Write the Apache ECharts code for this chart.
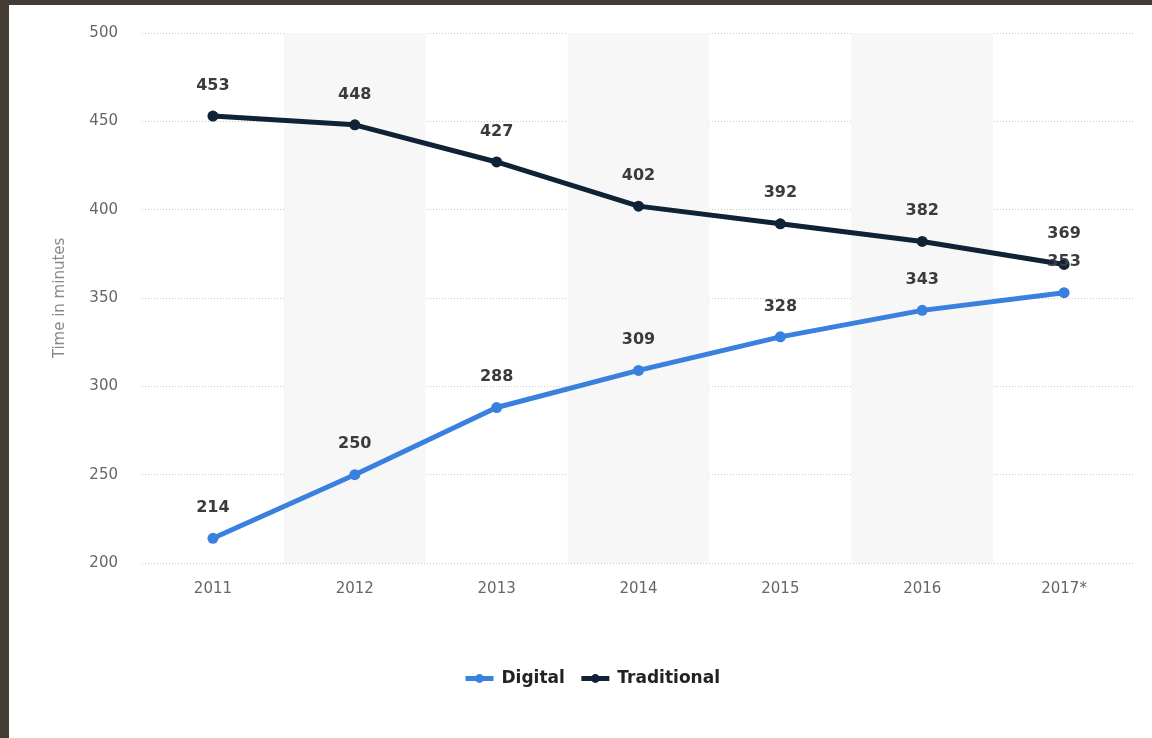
<!DOCTYPE html>
<html><head><meta charset="utf-8">
<script src="https://cdn.jsdelivr.net/npm/echarts@6/dist/echarts.min.js"></script>
<style>html,body{margin:0;padding:0;background:#fff}#c{width:1152px;height:738px}</style>
</head><body><div id="c"></div>
<script>
const categories = ['2011','2012','2013','2014','2015','2016','2017*'];
const digital = [214,250,288,309,328,343,353];
const traditional = [453,448,427,402,392,382,369];
const yTicks = [200,250,300,350,400,450,500];

const chart = echarts.init(document.getElementById('c'));
const lbl = {show:true, position:'top', distance:17, fontFamily:'DejaVu Sans', fontWeight:'bold', fontSize:16, color:'#3b3b3f'};
chart.setOption({
  animation:false,
  backgroundColor:'#fff',
  graphic:[
    {type:'rect', shape:{x:0,y:0,width:1152,height:5}, style:{fill:'#453b35'}, z:100},
    {type:'rect', shape:{x:0,y:0,width:9,height:738}, style:{fill:'#453b35'}, z:100}
  ],
  grid:{left:142, right:17, top:33, bottom:175},
  legend:{
    top:665, left:458, itemWidth:28, itemHeight:11, itemGap:14,
    lineStyle:{width:5},
    textStyle:{fontFamily:'DejaVu Sans', fontWeight:'bold', fontSize:17, color:'#222', padding:[0,0,0,3]},
    data:['Digital','Traditional']
  },
  xAxis:{
    type:'category', data:categories, boundaryGap:true,
    axisLine:{show:false}, axisTick:{show:false},
    axisLabel:{color:'#666', fontFamily:'DejaVu Sans', fontSize:15, margin:19},
    splitArea:{show:true, areaStyle:{color:['rgba(255,255,255,0)','#f7f7f7']}}
  },
  yAxis:{
    type:'value', min:yTicks[0], max:yTicks[yTicks.length-1], interval:50,
    name:'Time in minutes', nameLocation:'middle', nameGap:74, nameRotate:90,
    nameTextStyle:{color:'#888', fontFamily:'DejaVu Sans', fontSize:15},
    axisLine:{show:false}, axisTick:{show:false},
    axisLabel:{color:'#666', fontFamily:'DejaVu Sans', fontSize:15, margin:24},
    splitLine:{show:true, lineStyle:{color:'#c8c8c8', type:[1,2], width:1}}
  },
  series:[
    {name:'Digital', type:'line', data:digital, symbol:'circle', symbolSize:11,
     lineStyle:{width:5, color:'#3a80df'}, itemStyle:{color:'#3a80df'}, label:lbl, z:3},
    {name:'Traditional', type:'line', data:traditional, symbol:'circle', symbolSize:11,
     lineStyle:{width:5, color:'#0f2236'}, itemStyle:{color:'#0f2236'}, label:lbl, z:2}
  ]
});
</script></body></html>
